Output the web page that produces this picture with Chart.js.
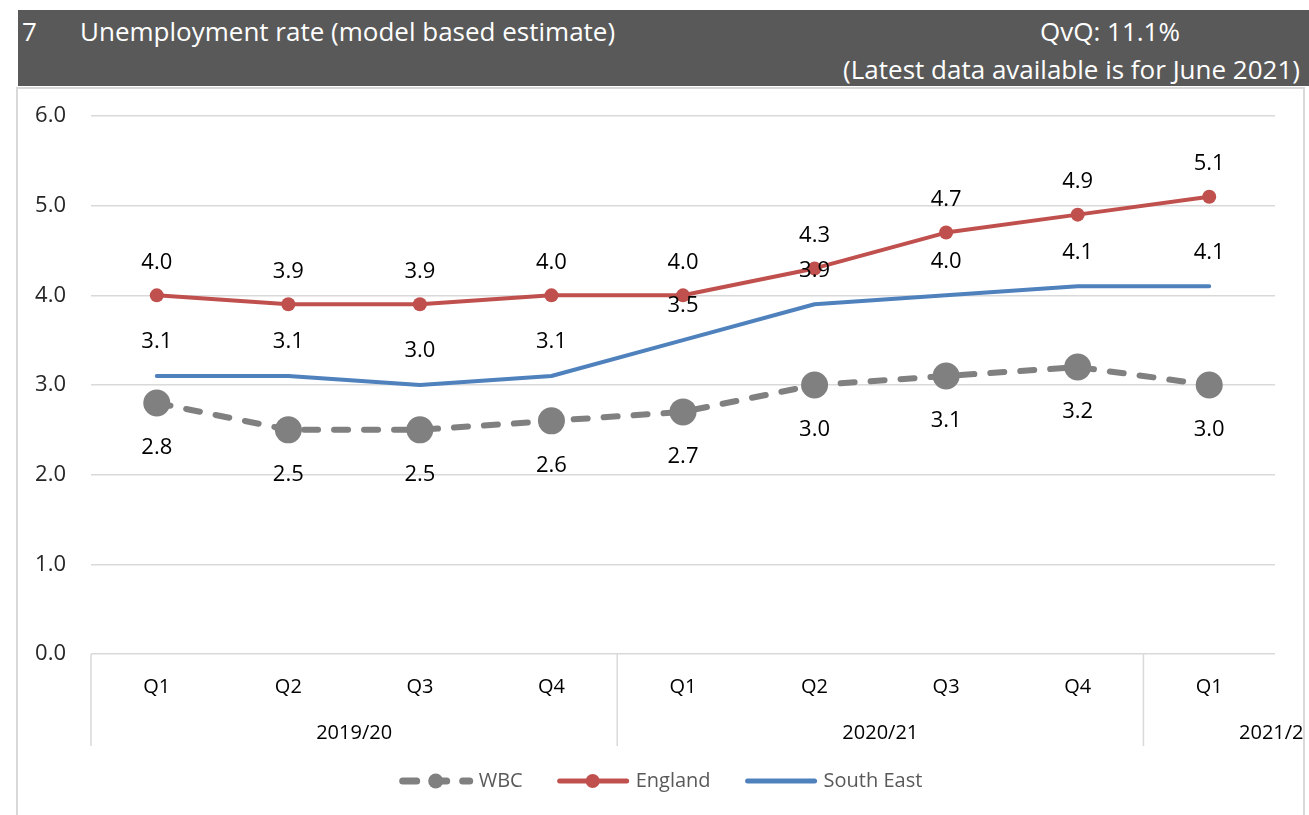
<!DOCTYPE html>
<html>
<head>
<meta charset="utf-8">
<title>Unemployment rate (model based estimate)</title>
<script src="https://cdn.jsdelivr.net/npm/chart.js@4.4.1/dist/chart.umd.min.js"></script>
<style>
    html, body { margin: 0; padding: 0; background: #fff; }
    body { width: 1309px; height: 815px; position: relative; overflow: hidden; font-family: 'Open Sans', sans-serif; }
    #header {
        position: absolute; left: 18px; top: 10px; width: 1291px; height: 76px;
        background: #595959; color: #fff; font-size: 26px;
    }
    #header span { position: absolute; white-space: nowrap; line-height: 1; }
    #frame {
        position: absolute; left: 16px; top: 87px; width: 1289px; height: 740px;
        border: 2px solid #d9d9d9; box-sizing: border-box;
    }
    #wrap { position: absolute; left: 0; top: 0; width: 1309px; height: 815px; }
</style>
</head>
<body>
<div id="frame"></div>
<div id="header">
    <span style="left:4px; top:8px;">7</span>
    <span style="left:62px; top:8px;">Unemployment rate (model based estimate)</span>
    <span style="left:1022px; top:8px;">QvQ: 11.1%</span>
    <span style="right:9px; top:46px;">(Latest data available is for June 2021)</span>
</div>
<div id="wrap"><canvas id="unempChart"></canvas></div>
<script>
// Data
const quarters = ['Q1', 'Q2', 'Q3', 'Q4', 'Q1', 'Q2', 'Q3', 'Q4', 'Q1'];
const years = [
    { label: '2019/20', from: 0, to: 3 },
    { label: '2020/21', from: 4, to: 7 },
    { label: '2021/22', from: 8, to: 8 }
];
const wbc = [2.8, 2.5, 2.5, 2.6, 2.7, 3.0, 3.1, 3.2, 3.0];
const england = [4.0, 3.9, 3.9, 4.0, 4.0, 4.3, 4.7, 4.9, 5.1];
const southEast = [3.1, 3.1, 3.0, 3.1, 3.5, 3.9, 4.0, 4.1, 4.1];

const FONT = "'Open Sans', sans-serif";
const GRID = '#d9d9d9';

// Data labels drawn above / below each point
const dataLabels = {
    id: 'dataLabels',
    afterDatasetsDraw(chart) {
        const ctx = chart.ctx;
        ctx.save();
        ctx.font = '22px ' + FONT;
        ctx.fillStyle = '#000';
        ctx.textAlign = 'center';
        ctx.textBaseline = 'middle';
        chart.data.datasets.forEach((ds, i) => {
            const meta = chart.getDatasetMeta(i);
            meta.data.forEach((pt, j) => {
                ctx.fillText(ds.data[j].toFixed(1), pt.x, pt.y + ds.labelOffset);
            });
        });
        ctx.restore();
    }
};

// Year groups under the quarter labels
const yearGroups = {
    id: 'yearGroups',
    afterDraw(chart) {
        const ctx = chart.ctx;
        const x = chart.scales.x;
        const step = x.getPixelForValue(1) - x.getPixelForValue(0);
        const bottom = chart.chartArea.bottom;
        ctx.save();
        ctx.strokeStyle = GRID;
        ctx.lineWidth = 1.5;
        years.forEach(g => {
            const left = x.getPixelForValue(g.from) - step / 2;
            ctx.beginPath();
            ctx.moveTo(left, bottom);
            ctx.lineTo(left, bottom + 92);
            ctx.stroke();
        });
        ctx.beginPath();
        ctx.rect(0, 0, 1303, chart.height);
        ctx.clip();
        ctx.font = '20px ' + FONT;
        ctx.fillStyle = '#000';
        ctx.textAlign = 'center';
        ctx.textBaseline = 'middle';
        years.forEach((g, k) => {
            let cx = (x.getPixelForValue(g.from) + x.getPixelForValue(g.to)) / 2;
            if (k === years.length - 1) cx = x.right + 2;
            ctx.fillText(g.label, cx, bottom + 79);
        });
        ctx.restore();
    }
};

// Legend: line sample with marker, centred under the chart
const customLegend = {
    id: 'customLegend',
    afterDraw(chart) {
        const ctx = chart.ctx;
        const y = 781;
        const sample = 74, gapText = 6, gapItem = 33;
        ctx.save();
        ctx.font = '20px ' + FONT;
        const items = chart.data.datasets.map(ds => ({ ds, w: ctx.measureText(ds.label).width }));
        const total = items.reduce((s, it) => s + sample + gapText + it.w, 0) + gapItem * (items.length - 1);
        let xPos = (16 + 1305) / 2 - total / 2;
        items.forEach(it => {
            const ds = it.ds;
            ctx.strokeStyle = ds.borderColor;
            ctx.lineWidth = ds.borderWidth + 1;
            ctx.lineCap = 'round';
            ctx.setLineDash(ds.borderDash || []);
            ctx.beginPath();
            ctx.moveTo(xPos + 4, y);
            ctx.lineTo(xPos + sample - 3, y);
            ctx.stroke();
            ctx.setLineDash([]);
            if (ds.pointRadius > 0) {
                ctx.fillStyle = ds.pointBackgroundColor;
                ctx.beginPath();
                ctx.arc(xPos + sample / 2, y, Math.min(ds.pointRadius, 7.5), 0, Math.PI * 2);
                ctx.fill();
            }
            ctx.fillStyle = '#595959';
            ctx.textAlign = 'left';
            ctx.textBaseline = 'middle';
            ctx.fillText(ds.label, xPos + sample + gapText, y);
            xPos += sample + gapText + it.w + gapItem;
        });
        ctx.restore();
    }
};

new Chart(document.getElementById('unempChart'), {
    type: 'line',
    data: {
        labels: quarters,
        datasets: [
            {
                label: 'WBC', data: wbc, borderColor: '#808080', backgroundColor: '#808080',
                borderWidth: 6, borderDash: [14, 16], borderCapStyle: 'round',
                pointRadius: 13.5, pointBackgroundColor: '#808080', pointBorderWidth: 0,
                labelOffset: 45
            },
            {
                label: 'England', data: england, borderColor: '#C0504D', backgroundColor: '#C0504D',
                borderWidth: 4, borderCapStyle: 'round',
                pointRadius: 7, pointBackgroundColor: '#C0504D', pointBorderWidth: 0,
                labelOffset: -33
            },
            {
                label: 'South East', data: southEast, borderColor: '#4F81BD', backgroundColor: '#4F81BD',
                borderWidth: 4, borderCapStyle: 'round',
                pointRadius: 0, pointBackgroundColor: '#4F81BD',
                labelOffset: -34
            }
        ]
    },
    options: {
        responsive: true,
        maintainAspectRatio: false,
        animation: false,
        devicePixelRatio: 1,
        layout: { padding: { top: 116, left: 16, right: 34, bottom: 0 } },
        elements: { line: { tension: 0, borderJoinStyle: 'round' } },
        plugins: { legend: { display: false }, tooltip: { enabled: false } },
        scales: {
            x: {
                offset: true,
                grid: { display: false },
                border: { display: false },
                ticks: { color: '#000', font: { family: FONT, size: 20 }, padding: 13, maxRotation: 0, autoSkip: false },
                afterFit: s => { s.height = 161; }
            },
            y: {
                min: 0, max: 6,
                grid: { color: GRID, lineWidth: 1.5, drawTicks: false },
                border: { display: false },
                ticks: { stepSize: 1, color: '#262626', font: { family: FONT, size: 22 }, padding: 25,
                    callback: v => v.toFixed(1) },
                afterFit: s => { s.width = 75; }
            }
        }
    },
    plugins: [dataLabels, yearGroups, customLegend]
});
</script>
</body>
</html>
